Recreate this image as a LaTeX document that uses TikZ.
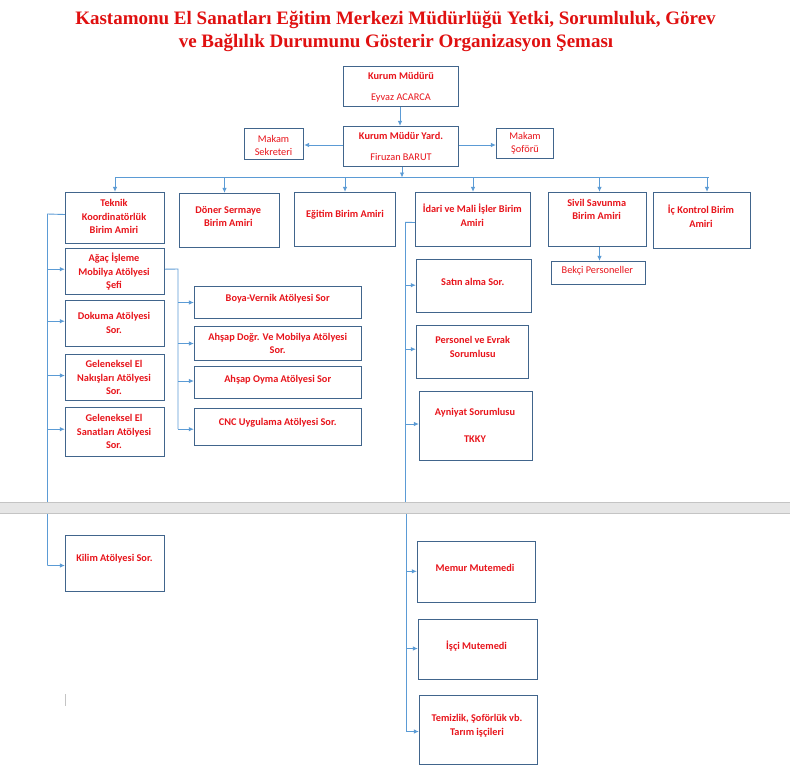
\documentclass[tikz,border=0pt]{standalone}
\usepackage{fontspec}
\setmainfont{Liberation Serif}
\newfontfamily\calfont{Carlito}
\usetikzlibrary{arrows.meta}
\definecolor{txtred}{HTML}{E8141B}
\definecolor{titred}{HTML}{E01010}
\definecolor{boxc}{HTML}{41658C}
\definecolor{linec}{HTML}{5B9BD5}
\definecolor{bandfill}{HTML}{E6E6E6}
\definecolor{bandline}{HTML}{C4C4C4}
\newcommand\mkbox[5]{\node[box,minimum width={(#4-#2)*1pt},minimum height={(#5-#3)*1pt}] (#1) at ({(#2+#4)/2},{(#3+#5)/2}) {};}
\tikzset{
  box/.style={draw=boxc,line width=1.3pt,rectangle,inner sep=0pt,fill=white},
  conn/.style={draw=linec,line width=0.9pt},
  arr/.style={conn,-{Latex[length=5pt,width=4.5pt]}},
  tb/.style={text=txtred,font=\calfont\bfseries\fontsize{10.3}{13.5}\selectfont,align=center,inner sep=0pt},
  tr/.style={text=txtred,font=\calfont\fontsize{10.3}{13.5}\selectfont,align=center,inner sep=0pt},
  ttl/.style={text=titred,font=\bfseries\fontsize{19}{23}\selectfont,inner sep=0pt},
}
\begin{document}
\begin{tikzpicture}[x=1pt,y=-1pt]
\useasboundingbox (0,0) rectangle (790,772);
\fill[white] (0,0) rectangle (790,772);
% title
\node[ttl] (t1) at (395.5,20) {Kastamonu El Sanatları Eğitim Merkezi Müdürlüğü Yetki, Sorumluluk, Görev};
\node[ttl] (t2) at (396,43) {ve Bağlılık Durumunu Gösterir Organizasyon Şeması};
% coordinates
\coordinate (bus) at (0,177.5);
\coordinate (lt) at (47.5,214);
\coordinate (rt) at (405.5,222.3);
\coordinate (rb) at (406.5,508);
\coordinate (ab) at (178,269);
% boxes
\mkbox{km}{343.5}{66.5}{458.5}{106.5}
\mkbox{ky}{343.5}{126.5}{458.5}{166.5}
\mkbox{ms}{244.5}{128.5}{303.5}{159.5}
\mkbox{msf}{496.5}{128.5}{553.5}{158.5}
\mkbox{tk}{65.5}{192.5}{164.5}{243.5}
\mkbox{ds}{179.5}{193.5}{279.5}{247.5}
\mkbox{eg}{294.5}{192.5}{395.5}{246.5}
\mkbox{id}{415.5}{192.5}{530.5}{246.5}
\mkbox{sv}{548.5}{192.5}{646.5}{246.5}
\mkbox{ic}{653.5}{192.5}{750.5}{248.5}
\mkbox{bk}{551.5}{261.5}{645.5}{284.5}
\mkbox{ag}{65.5}{248.5}{164.5}{294.5}
\mkbox{dk}{65.5}{300.5}{164.5}{346.5}
\mkbox{gn}{65.5}{354.5}{164.5}{400.5}
\mkbox{gs}{65.5}{407.5}{164.5}{456.5}
\mkbox{bv}{194.5}{286.5}{361.5}{318.5}
\mkbox{ad}{194.5}{326.5}{361.5}{360.5}
\mkbox{ao}{194.5}{366.5}{361.5}{398.5}
\mkbox{cnc}{194.5}{408.5}{361.5}{445.5}
\mkbox{sa}{416.5}{259.5}{531.5}{312.5}
\mkbox{pe}{416.5}{325.5}{528.5}{378.5}
\mkbox{ay}{419.5}{391.5}{532.5}{460.5}
\mkbox{kl}{65.5}{535.5}{164.5}{591.5}
\mkbox{mm}{417.5}{541.5}{535.5}{602.5}
\mkbox{im}{418.5}{619.5}{537.5}{679.5}
\mkbox{tz}{419.5}{695.5}{537.5}{764.5}
% top connectors
\draw[arr] ([xshift=-1pt]km.south) -- ([xshift=-1pt]ky.north);
\draw[arr] ([yshift=1.5pt]ky.west) -- ([yshift=1.5pt]ky.west -| ms.east);
\draw[arr] ([yshift=1.5pt]ky.east) -- ([yshift=1.5pt]ky.east -| msf.west);
\draw[arr] ([xshift=1pt]ky.south) -- ([xshift=1pt]ky.south |- bus);
\draw[conn] (115,177.5) -- (709,177.5);
\draw[arr] (tk.north |- bus) -- (tk.north);
\draw[arr] ([xshift=-5pt]ds.north |- bus) -- ([xshift=-5pt]ds.north);
\draw[arr] (eg.north |- bus) -- (eg.north);
\draw[arr] (id.north |- bus) -- (id.north);
\draw[arr] ([xshift=2pt]sv.north |- bus) -- ([xshift=2pt]sv.north);
\draw[arr] ([xshift=5pt]ic.north |- bus) -- ([xshift=5pt]ic.north);
\draw[arr] ([xshift=2pt]sv.south) -- ([xshift=2pt]sv.south |- bk.north);
% left trunk
\draw[conn] ([yshift=3.5pt]tk.west) -- (lt) -- ([yshift=-2pt]lt |- kl.west);
\draw[arr] ([yshift=2.3pt]lt |- ag.west) -- ([yshift=2.3pt]ag.west);
\draw[arr] ([yshift=2.3pt]lt |- dk.west) -- ([yshift=2.3pt]dk.west);
\draw[arr] ([yshift=2pt]lt |- gn.west) -- ([yshift=2pt]gn.west);
\draw[arr] ([yshift=2.8pt]lt |- gs.west) -- ([yshift=2.8pt]gs.west);
\draw[arr] ([yshift=-2pt]lt |- kl.west) -- ([yshift=-2pt]kl.west);
% agac branch
\draw[conn] ([yshift=2.3pt]ag.east) -- (ab) -- ([yshift=-2.2pt]ab |- cnc.west);
\draw[arr] (ab |- bv.west) -- (bv.west);
\draw[arr] (ab |- ad.west) -- (ad.west);
\draw[arr] ([yshift=1.5pt]ab |- ao.west) -- ([yshift=1.5pt]ao.west);
\draw[arr] ([yshift=-2.2pt]ab |- cnc.west) -- ([yshift=-2.2pt]cnc.west);
% idari trunk
\draw[conn] ([yshift=-3pt]id.west) -- (rt) -- (rt |- rb);
\draw[conn] (rb) -- ([yshift=-1.5pt]rb |- tz.west);
\draw[arr] ([yshift=0.8pt]rt |- sa.west) -- ([yshift=0.8pt]sa.west);
\draw[arr] ([yshift=2.8pt]rt |- pe.west) -- ([yshift=2.8pt]pe.west);
\draw[arr] ([yshift=2pt]rt |- ay.west) -- ([yshift=2pt]ay.west);
\draw[arr] ([yshift=0.7pt]rb |- mm.west) -- ([yshift=0.7pt]mm.west);
\draw[arr] ([yshift=1pt]rb |- im.west) -- ([yshift=1pt]im.west);
\draw[arr] ([yshift=-1.5pt]rb |- tz.west) -- ([yshift=-1.5pt]tz.west);
% page break band
\fill[bandfill] (0,502.3) rectangle (790,513.3);
\draw[bandline,line width=0.8pt] (0,502.3) -- (790,502.3);
\draw[bandline,line width=0.8pt] (0,513.3) -- (790,513.3);
\draw[bandline,line width=0.6pt] (65.5,694) -- (65.5,705.7);
% texts
\node[tb] (km-a) at (401,76) {Kurum Müdürü};
\node[tr] (km-b) at (401,97.5) {Eyvaz ACARCA};
\node[tb] (ky-a) at (401,136) {Kurum Müdür Yard.};
\node[tr] (ky-b) at (401,156.7) {Firuzan BARUT};
\node[tr] (ms-t) at (273.5,145.5) {Makam\\Sekreteri};
\node[tr] (msf-t) at (525,143.5) {Makam\\Şoförü};
\node[tb] (tk-t) at (114,216.5) {Teknik\\Koordinatörlük\\Birim Amiri};
\node[tb] (ds-t) at (228.3,216.3) {Döner Sermaye\\Birim Amiri};
\node[tb] (eg-t) at (345,214.3) {Eğitim Birim Amiri};
\node[tb] (id-t) at (472.3,215.3) {İdari ve Mali İşler Birim\\Amiri};
\node[tb] (sv-t) at (596.7,209.3) {Sivil Savunma\\Birim Amiri};
\node[tb] (ic-t) at (701,216.3) {İç Kontrol Birim\\Amiri};
\node[tr] (bk-t) at (597.3,270.7) {Bekçi Personeller};
\node[tb] (ag-t) at (114,271.7) {Ağaç İşleme\\Mobilya Atölyesi\\Şefi};
\node[tb] (dk-t) at (114,323) {Dokuma Atölyesi\\Sor.};
\node[tb] (gn-t) at (114,377.7) {Geleneksel El\\Nakışları Atölyesi\\Sor.};
\node[tb] (gs-t) at (114,431.8) {Geleneksel El\\Sanatları Atölyesi\\Sor.};
\node[tb] (bv-t) at (277.7,299) {Boya-Vernik Atölyesi Sor};
\node[tb] (ad-t) at (277.7,343.3) {Ahşap Doğr. Ve Mobilya Atölyesi\\Sor.};
\node[tb] (ao-t) at (277.7,379.3) {Ahşap Oyma Atölyesi Sor};
\node[tb] (cnc-t) at (277.7,422.7) {CNC Uygulama Atölyesi Sor.};
\node[tb] (sa-t) at (472.7,282) {Satın alma Sor.};
\node[tb] (pe-t) at (472.7,346.8) {Personel ve Evrak\\Sorumlusu};
\node[tb] (ay-a) at (475,413) {Ayniyat Sorumlusu};
\node[tb] (ay-b) at (475,438.7) {TKKY};
\node[tb] (kl-t) at (114.4,559) {Kilim Atölyesi Sor.};
\node[tb] (mm-t) at (475,567.7) {Memur Mutemedi};
\node[tb] (im-t) at (476.6,645.7) {İşçi Mutemedi};
\node[tb,font=\calfont\bfseries\fontsize{10.3}{14}\selectfont] (tz-t) at (477,725.7) {Temizlik, Şoförlük vb.\\Tarım işçileri};
\end{tikzpicture}
\end{document}
